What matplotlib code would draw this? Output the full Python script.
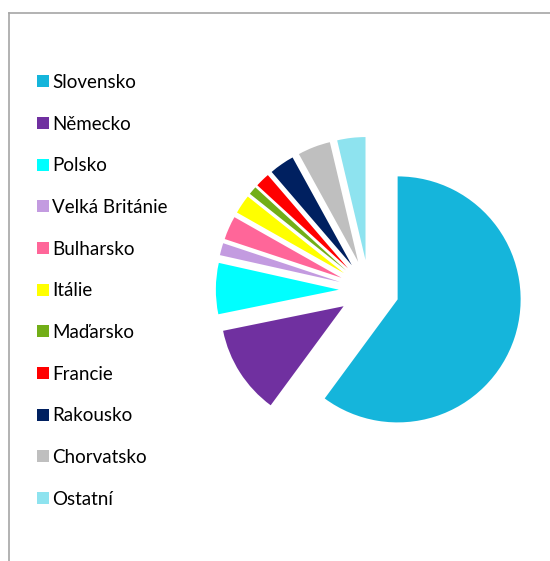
import matplotlib
matplotlib.use("Agg")
import matplotlib.pyplot as plt
from matplotlib.lines import Line2D

# podíl zemí (v %)
zeme = ["Slovensko", "Německo", "Polsko", "Velká Británie", "Bulharsko", "Itálie",
        "Maďarsko", "Francie", "Rakousko", "Chorvatsko", "Ostatní"]
podil = [60.1, 11.7, 6.7, 1.6, 3.1, 2.5, 1.1, 1.9, 3.3, 4.3, 3.7]
barvy = ["#15B5DB", "#7030A0", "#00FFFF", "#C39BE0", "#FF6699", "#FFFF00",
         "#72AE17", "#FF0000", "#002060", "#BFBFBF", "#8EE3EF"]

plt.rcParams['font.family'] = ['Lato', 'DejaVu Sans']

W, H = 550, 561
fig = plt.figure(figsize=(W / 100, H / 100), dpi=100)
ax = fig.add_axes([0, 0, 1, 1])

wedges, _ = ax.pie(podil, colors=barvy, startangle=90, counterclock=False,
                   explode=[0.245] * len(podil), radius=1.0,
                   wedgeprops=dict(linewidth=0))

# umístění koláče v pixelech (střed, poloměr)
cx, cy, r = 369, 290, 123
ax.set_aspect('auto')
ax.set_xlim(-cx / r, (W - cx) / r)
ax.set_ylim(-(H - cy) / r, cy / r)
ax.axis('off')

# rámeček grafu (vidět jen levá a horní hrana)
fig.add_artist(Line2D([9 / W, 9 / W], [0, 1 - 13 / H], color='#A6A6A6', lw=1.2))
fig.add_artist(Line2D([9 / W, 1], [1 - 13 / H, 1 - 13 / H], color='#A6A6A6', lw=1.2))

fig.legend(wedges, zeme, loc='upper left', bbox_to_anchor=(37 / W, 1 - 74 / H),
           frameon=False, fontsize=13.5, handlelength=0.62, handleheight=0.62,
           handletextpad=0.2, labelspacing=1.315, borderpad=0, borderaxespad=0)

fig.savefig("out.png", dpi=100)
